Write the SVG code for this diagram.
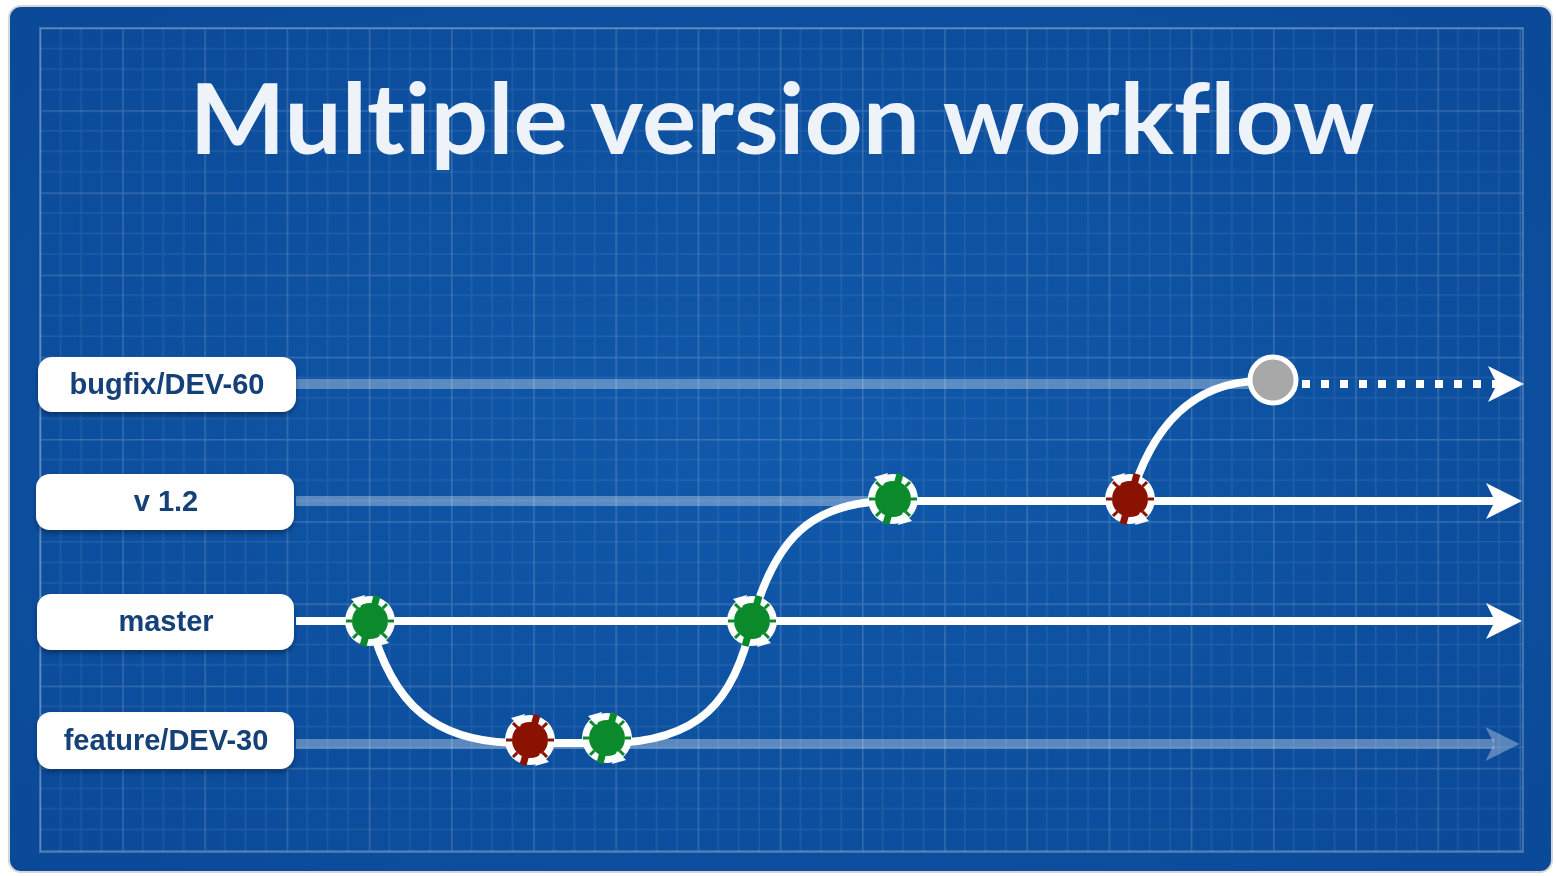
<svg xmlns="http://www.w3.org/2000/svg" width="1556" height="876" viewBox="0 0 1556 876">
<style>
.lbl{fill:#ffffff}
.lt{font-family:"Liberation Sans",Arial,sans-serif;font-weight:700;font-size:29px;fill:#123f78;text-anchor:middle}
.faint{stroke:#ffffff;stroke-opacity:0.32;stroke-width:10;fill:none}
.solid{stroke:#ffffff;stroke-width:8;fill:none}
</style>
<defs>
<radialGradient id="bg" cx="50%" cy="50%" r="70%">
<stop offset="0" stop-color="#1159ab"/>
<stop offset="1" stop-color="#0a4997"/>
</radialGradient>
<pattern id="grid" x="40" y="28" width="82.2" height="82.2" patternUnits="userSpaceOnUse">
<path d="M20.55 0V82.2M41.1 0V82.2M61.65 0V82.2M0 20.55H82.2M0 41.1H82.2M0 61.65H82.2" stroke="#ffffff" stroke-opacity="0.08" stroke-width="1.5" fill="none"/>
<path d="M0.75 0V82.2M0 0.75H82.2" stroke="#ffffff" stroke-opacity="0.17" stroke-width="1.5" fill="none"/>
</pattern>
<filter id="sh" x="-10%" y="-20%" width="120%" height="150%">
<feDropShadow dx="0" dy="3" stdDeviation="2.5" flood-color="#000" flood-opacity="0.35"/>
</filter>
<marker id="ah" viewBox="0 0 10 10" refX="2.5" refY="5" markerWidth="4.5" markerHeight="4.5" markerUnits="strokeWidth" orient="auto" overflow="visible">
<path d="M0 0L10 5L0 10L2.5 5Z" fill="#ffffff"/>
</marker>
<marker id="ahf" viewBox="0 0 10 10" refX="2.5" refY="5" markerWidth="3.4" markerHeight="3.4" markerUnits="strokeWidth" orient="auto" overflow="visible">
<path d="M0 0L10 5L0 10L2.5 5Z" fill="#ffffff" fill-opacity="0.32"/>
</marker>
<g id="cg">
<circle r="25" fill="#ffffff"/>
<circle r="18" fill="#0b8a2c"/>
<g stroke="#0b8a2c" stroke-width="3">
<path d="M18 0H24M-18 0H-24M12.7 12.7L17 17M-12.7 12.7L-17 17M12.7 -12.7L17 -17M-12.7 -12.7L-17 -17"/>
</g>
<path d="M7 -25L-7 25" stroke="#0b8a2c" stroke-width="7"/>
<path d="M-19 -22L-5 -26L-10 -13Z" fill="#ffffff"/>
<path d="M19 22L5 26L10 13Z" fill="#ffffff"/>
</g>
<g id="cr">
<circle r="25" fill="#ffffff"/>
<circle r="18" fill="#8a1200"/>
<g stroke="#8a1200" stroke-width="3">
<path d="M18 0H24M-18 0H-24M12.7 12.7L17 17M-12.7 12.7L-17 17M12.7 -12.7L17 -17M-12.7 -12.7L-17 -17"/>
</g>
<path d="M7 -25L-7 25" stroke="#8a1200" stroke-width="7"/>
<path d="M-19 -22L-5 -26L-10 -13Z" fill="#ffffff"/>
<path d="M19 22L5 26L10 13Z" fill="#ffffff"/>
</g>
</defs>
<rect x="0" y="0" width="1556" height="876" fill="#ffffff"/>
<g id="panel">
<rect x="9" y="6" width="1543" height="866" rx="12" fill="url(#bg)" stroke="#d6d6d6" stroke-width="2"/>
<rect x="40" y="28" width="1483" height="824" fill="url(#grid)" stroke="#ffffff" stroke-opacity="0.22" stroke-width="2"/>
</g>
<text id="title" x="782" y="154" font-family="Lato,'Open Sans',sans-serif" font-weight="700" font-size="98" fill="#eef3fa" text-anchor="middle" textLength="1185" lengthAdjust="spacingAndGlyphs" style="font-variant-ligatures:no-common-ligatures">Multiple version workflow</text>
<g id="connectors">
<path class="faint" d="M296 384H1255"/>
<path class="faint" d="M296 501H880"/>
<path class="faint" d="M296 744H1494" marker-end="url(#ahf)"/>
<path class="solid" d="M296 621H1495" marker-end="url(#ah)"/>
<path class="solid" d="M880 501H1495" marker-end="url(#ah)"/>
<path d="M1302 384H1497" stroke="#ffffff" stroke-width="8" stroke-dasharray="8 11" fill="none" marker-end="url(#ah)"/>
<path class="solid" d="M370 621C392 705 435 743 520 743H610"/>
<path class="solid" d="M607 743C700 743 735 700 752 621"/>
<path class="solid" d="M752 621C775 540 810 501 893 501"/>
<path class="solid" d="M1130 501C1150 430 1190 382 1260 381"/>
</g>
<g id="label-bugfix" filter="url(#sh)">
<rect class="lbl" x="38" y="357" width="258" height="55" rx="14"/>
<text class="lt" x="167" y="394">bugfix/DEV-60</text>
</g>
<g id="label-v12" filter="url(#sh)">
<rect class="lbl" x="36" y="474" width="258" height="56" rx="14"/>
<text class="lt" x="166" y="511">v 1.2</text>
</g>
<g id="label-master" filter="url(#sh)">
<rect class="lbl" x="37" y="594" width="257" height="56" rx="14"/>
<text class="lt" x="166" y="631">master</text>
</g>
<g id="label-feature" filter="url(#sh)">
<rect class="lbl" x="37" y="712" width="257" height="57" rx="14"/>
<text class="lt" x="166" y="750">feature/DEV-30</text>
</g>
<g id="commit-1"><use href="#cg" x="370" y="621"/></g>
<g id="commit-2"><use href="#cr" x="530" y="740"/></g>
<g id="commit-3"><use href="#cg" x="607" y="738"/></g>
<g id="commit-4"><use href="#cg" x="752" y="621"/></g>
<g id="commit-5"><use href="#cg" x="893" y="499"/></g>
<g id="commit-6"><use href="#cr" x="1130" y="499"/></g>
<g id="head"><circle cx="1273" cy="380" r="23" fill="#a8a8a8" stroke="#ffffff" stroke-width="5"/></g>
</svg>
